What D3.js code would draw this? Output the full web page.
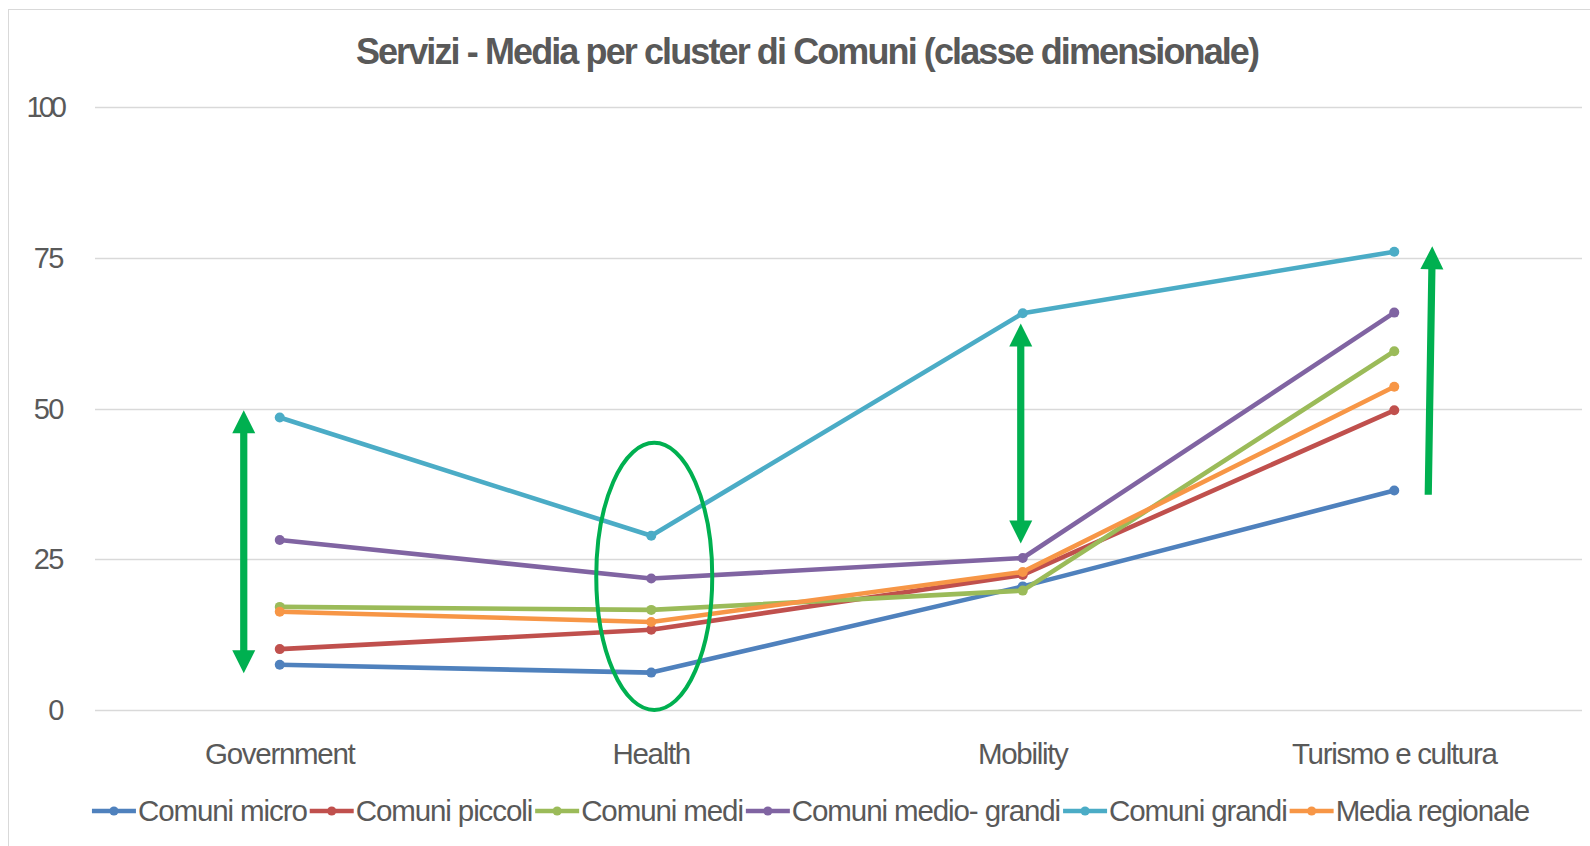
<!DOCTYPE html>
<html>
<head>
<meta charset="utf-8">
<script src="https://cdn.jsdelivr.net/npm/d3@7"></script>
<style>
  html, body { margin: 0; padding: 0; background: #fff; }
  svg { display: block; }
  text { font-family: "Liberation Sans", Arial, sans-serif; fill: #595959; }
</style>
</head>
<body>
<svg id="chart" width="1590" height="846"></svg>
<script>
// categories + series
const categories = ["Government", "Health", "Mobility", "Turismo e cultura"];
const seriesNames = ["Comuni micro", "Comuni piccoli", "Comuni medi", "Comuni medio- grandi", "Comuni grandi", "Media regionale"];
const comuniMicro = [7.5, 6.2, 20.5, 36.4];
const comuniPiccoli = [10.1, 13.3, 22.4, 49.7];
const comuniMedi = [17.1, 16.6, 19.8, 59.5];
const comuniMedioGrandi = [28.2, 21.8, 25.2, 65.9];
const comuniGrandi = [48.5, 28.9, 65.8, 76.0];
const mediaRegionale = [16.3, 14.6, 22.9, 53.6];
const seriesColors = ["#4F81BD", "#C0504D", "#9BBB59", "#8064A2", "#4BACC6", "#F79646"];
const yTicks = [0, 25, 50, 75, 100];
const title = "Servizi - Media per cluster di Comuni (classe dimensionale)";

// green annotations, in data units
const doubleArrows = [
    { cat: "Government", from: 6.1, to: 49.7 },
    { cat: "Mobility", from: 27.6, to: 64.1 }
];
const upArrows = [{ cat: "Turismo e cultura", from: 35.7, to: 76.9 }];
const rings = [{ cat: "Health", bottom: 0, top: 44.3 }];

const series = [comuniMicro, comuniPiccoli, comuniMedi, comuniMedioGrandi, comuniGrandi, mediaRegionale]
    .map((vals, i) => ({ name: seriesNames[i], color: seriesColors[i], values: vals }));

const svg = d3.select("#chart");
const green = "#00B050";

// frame
svg.append("rect")
    .attr("x", 8.5).attr("y", 9.5)
    .attr("width", 1620).attr("height", 900)
    .attr("fill", "#fff").attr("stroke", "#d9d9d9");

const x = d3.scalePoint().domain(categories).range([94, 1580]).padding(0.5);
const y = d3.scaleLinear().domain([0, 100]).range([710, 107]);

// gridlines + y labels
const yAxis = svg.append("g");
yAxis.selectAll("line").data(yTicks).enter().append("line")
    .attr("x1", 95).attr("x2", 1582)
    .attr("y1", d => Math.round(y(d)) + 0.5)
    .attr("y2", d => Math.round(y(d)) + 0.5)
    .attr("stroke", "#d9d9d9").attr("stroke-width", 1.3);
yAxis.selectAll("text").data(yTicks).enter().append("text")
    .attr("x", 63)
    .attr("y", d => y(d))
    .attr("dy", "0.35em")
    .attr("text-anchor", "end")
    .style("font-size", "29px")
    .style("letter-spacing", d => d === 100 ? "-4px" : "-1.5px")
    .text(d => d);

// x labels
svg.append("g").selectAll("text").data(categories).enter().append("text")
    .attr("x", d => x(d))
    .attr("y", 764)
    .attr("text-anchor", "middle")
    .style("font-size", "29.5px")
    .style("letter-spacing", "-1.3px")
    .text(d => d);

// title
svg.append("text")
    .attr("x", 807).attr("y", 64)
    .attr("text-anchor", "middle")
    .style("font-size", "36px")
    .style("font-weight", "bold")
    .style("letter-spacing", "-1.9px")
    .text(title);

// lines + markers
const line = d3.line()
    .x((d, i) => x(categories[i]))
    .y(d => y(d));

const sg = svg.append("g").selectAll("g").data(series).enter().append("g");
sg.append("path")
    .attr("d", d => line(d.values))
    .attr("fill", "none")
    .attr("stroke", d => d.color)
    .attr("stroke-width", 4.6)
    .attr("stroke-linejoin", "round");
sg.selectAll("circle").data(d => d.values.map(v => ({ v, color: d.color })))
    .enter().append("circle")
    .attr("cx", (d, i) => x(categories[i]))
    .attr("cy", d => y(d.v))
    .attr("r", 5)
    .attr("fill", d => d.color);

// arrow polygon from (x1,y1) to (x2,y2), heads at the end (and at start if both)
function arrowPath(x1, y1, x2, y2, both) {
    const shaft = 3.6, head = 11.5, hl = 23;
    const len = Math.hypot(x2 - x1, y2 - y1);
    const ux = (x2 - x1) / len, uy = (y2 - y1) / len;
    const px = -uy, py = ux;
    const pt = (t, w) => [x1 + ux * t + px * w, y1 + uy * t + py * w];
    const s = both ? hl : 0, e = len - hl;
    const pts = [pt(s, shaft), pt(e, shaft), pt(e, head), pt(len, 0), pt(e, -head), pt(e, -shaft), pt(s, -shaft)];
    if (both) pts.push(pt(s, -head), pt(0, 0), pt(s, head));
    return "M" + pts.map(p => p.join(",")).join("L") + "Z";
}

const ann = svg.append("g");
ann.selectAll("path.dbl").data(doubleArrows).enter().append("path")
    .attr("d", d => {
        const cx = x(d.cat) + (d.cat === "Government" ? -36 : -2);
        return arrowPath(cx, y(d.from), cx, y(d.to), true);
    })
    .attr("fill", green);
ann.selectAll("path.up").data(upArrows).enter().append("path")
    .attr("d", d => arrowPath(x(d.cat) + 34, y(d.from), x(d.cat) + 38, y(d.to), false))
    .attr("fill", green);
ann.selectAll("ellipse").data(rings).enter().append("ellipse")
    .attr("cx", d => x(d.cat) + 3)
    .attr("cy", d => (y(d.bottom) + y(d.top)) / 2)
    .attr("rx", 58)
    .attr("ry", d => (y(d.bottom) - y(d.top)) / 2)
    .attr("fill", "none")
    .attr("stroke", green)
    .attr("stroke-width", 4);

// legend
const legend = svg.append("g");
const items = legend.selectAll("g").data(series).enter().append("g");
items.append("line")
    .attr("x1", 0).attr("x2", 44).attr("y1", 0).attr("y2", 0)
    .attr("stroke", d => d.color).attr("stroke-width", 4.6);
items.append("circle")
    .attr("cx", 22).attr("cy", 0).attr("r", 4.6)
    .attr("fill", d => d.color);
items.append("text")
    .attr("x", 46).attr("y", 10)
    .style("font-size", "29.5px")
    .style("letter-spacing", "-1.1px")
    .text(d => d.name);

const widths = [];
items.each(function () {
    widths.push(46 + this.querySelector("text").getComputedTextLength() + 3);
});
const total = d3.sum(widths);
let lx = 812 - total / 2;
items.attr("transform", (d, i) => {
    const t = `translate(${lx},811)`;
    lx += widths[i];
    return t;
});
</script>
</body>
</html>
